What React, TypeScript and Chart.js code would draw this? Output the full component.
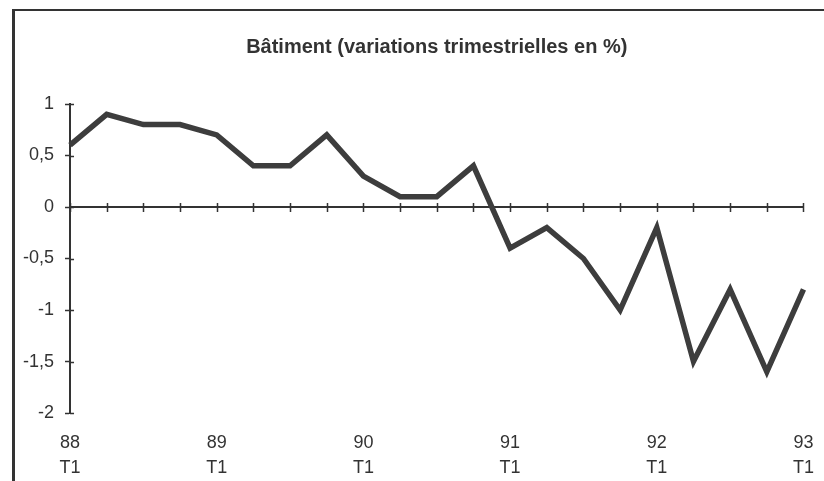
import React, { useEffect, useRef } from 'react';
import { Chart, registerables } from 'chart.js';

Chart.register(...registerables);

const TITLE = 'Bâtiment (variations trimestrielles en %)';

const quarters = [
  '88 T1', '88 T2', '88 T3', '88 T4',
  '89 T1', '89 T2', '89 T3', '89 T4',
  '90 T1', '90 T2', '90 T3', '90 T4',
  '91 T1', '91 T2', '91 T3', '91 T4',
  '92 T1', '92 T2', '92 T3', '92 T4',
  '93 T1',
];

const values = [
  0.6, 0.9, 0.8, 0.8,
  0.7, 0.4, 0.4, 0.7,
  0.3, 0.1, 0.1, 0.4,
  -0.4, -0.2, -0.5, -1.0,
  -0.2, -1.5, -0.8, -1.6,
  -0.8,
];

const Y_MIN = -2;
const Y_MAX = 1;
const Y_STEP = 0.5;

const INK = '#333333';
const LINE = '#3d3d3d';
const FONT = "'Liberation Sans', Arial, Helvetica, sans-serif";

const zeroAxisPlugin = {
  id: 'zeroAxis',
  beforeDatasetsDraw(chart: any) {
    const { ctx } = chart;
    const x = chart.scales.x;
    const y = chart.scales.y;
    const y0 = Math.round(y.getPixelForValue(0));
    ctx.save();
    ctx.strokeStyle = INK;
    ctx.lineWidth = 2;
    ctx.beginPath();
    ctx.moveTo(x.getPixelForValue(0), y0);
    ctx.lineTo(x.getPixelForValue(quarters.length - 1), y0);
    ctx.stroke();
    ctx.lineWidth = 1.5;
    ctx.beginPath();
    for (let i = 0; i < quarters.length; i++) {
      const px = Math.round(x.getPixelForValue(i)) + 0.5;
      ctx.moveTo(px, y0 - 4);
      ctx.lineTo(px, y0 + 5);
    }
    const left = chart.chartArea.left;
    y.ticks.forEach((t: any) => {
      const py = Math.round(y.getPixelForValue(t.value)) + 0.5;
      ctx.moveTo(left, py);
      ctx.lineTo(left + 4, py);
    });
    ctx.stroke();
    ctx.restore();
  },
};

export default function App() {
  const ref = useRef<HTMLCanvasElement>(null);

  useEffect(() => {
    document.body.style.margin = '0';
    const canvas = ref.current;
    if (!canvas) return;
    const chart = new Chart(canvas, {
      type: 'line',
      data: {
        labels: quarters,
        datasets: [
          {
            data: values,
            borderColor: LINE,
            borderWidth: 5.5,
            borderJoinStyle: 'miter',
            borderCapStyle: 'butt',
            pointRadius: 0,
            tension: 0,
            fill: false,
          },
        ],
      },
      options: {
        responsive: false,
        animation: false,
        events: [],
        layout: { padding: { left: 12, right: 11, top: 0, bottom: -9 } },
        plugins: {
          legend: { display: false },
          tooltip: { enabled: false },
          title: {
            display: true,
            text: TITLE,
            fullSize: false,
            color: INK,
            font: { family: FONT, size: 20, weight: 'bold' },
            padding: { top: 35, bottom: 45 },
          },
        },
        scales: {
          x: {
            type: 'category',
            offset: false,
            border: { display: false },
            grid: { display: false, drawTicks: true, tickLength: 8 },
            ticks: {
              autoSkip: false,
              maxRotation: 0,
              minRotation: 0,
              padding: 10,
              color: INK,
              font: { family: FONT, size: 18, lineHeight: 1.36 },
              callback: (_v: any, i: number) => {
                const q = quarters[i];
                return q.endsWith('T1') ? q.split(' ') : '';
              },
            },
          },
          y: {
            min: Y_MIN,
            max: Y_MAX,
            border: { display: true, color: INK, width: 2 },
            grid: {
              drawOnChartArea: false,
              drawTicks: true,
              tickLength: 5,
              tickWidth: 1.5,
              tickColor: INK,
            },
            ticks: {
              stepSize: Y_STEP,
              padding: 11,
              color: INK,
              font: { family: FONT, size: 18 },
              callback: (v: any) => String(v).replace('.', ','),
            },
          },
        },
      },
      plugins: [zeroAxisPlugin],
    });
    return () => chart.destroy();
  }, []);

  return (
    <div style={{ position: 'relative', width: 824, height: 481, background: '#ffffff', overflow: 'hidden' }}>
      <div
        style={{
          position: 'absolute',
          left: 12,
          top: 9,
          width: 900,
          height: 600,
          borderLeft: `3px solid ${INK}`,
          borderTop: `2px solid ${INK}`,
        }}
      />
      <canvas ref={ref} width={824} height={481} style={{ position: 'absolute', left: 0, top: 0, display: 'block' }} />
    </div>
  );
}
